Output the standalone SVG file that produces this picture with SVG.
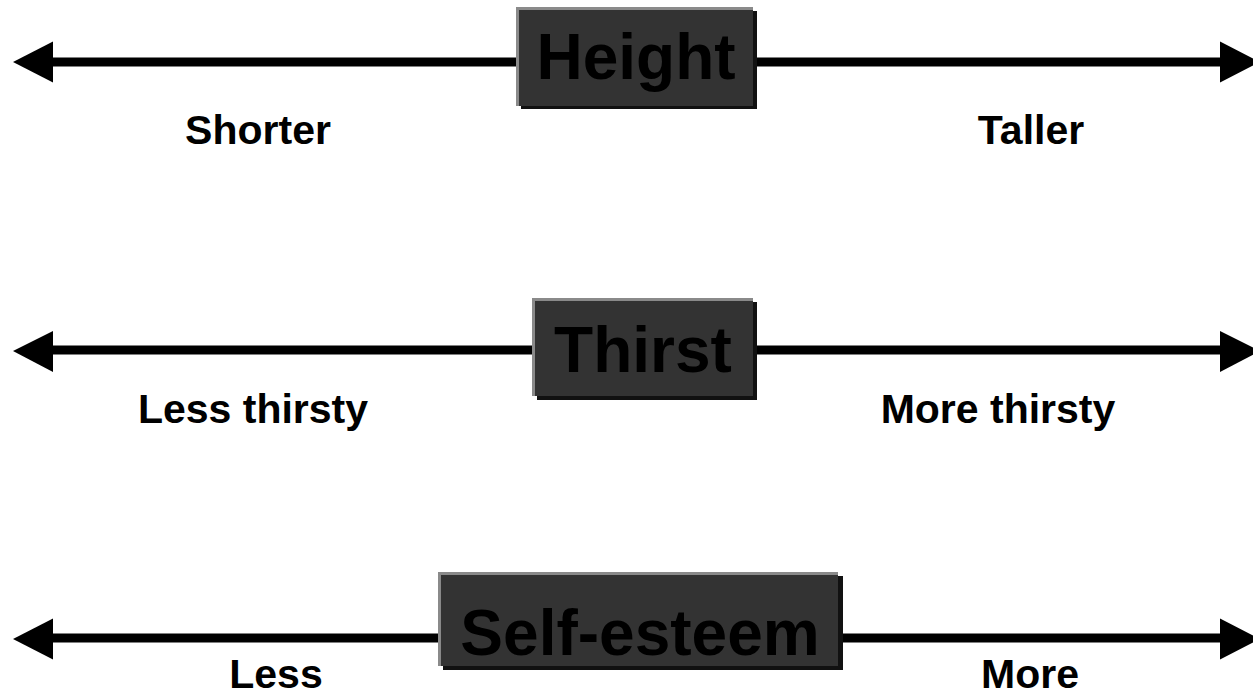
<svg xmlns="http://www.w3.org/2000/svg" width="1253" height="696" viewBox="0 0 1253 696">
<style>
.ln{stroke:#000;stroke-width:9;fill:none}
.ah{fill:#000}
.sh{fill:#111}
.bx{fill:#333}
.hl{fill:none;stroke:#8a8a8a;stroke-width:3}
.tt{font-family:"Liberation Sans",Arial,sans-serif;font-weight:bold;font-size:64px;fill:#000;text-anchor:middle}
.lb{font-family:"Liberation Sans",Arial,sans-serif;font-weight:bold;font-size:41px;fill:#000;text-anchor:middle}
</style>
<rect width="1253" height="696" fill="#fff"/>
<g id="connectors">
<line class="ln" x1="50" y1="62" x2="520" y2="62"/>
<line class="ln" x1="750" y1="62" x2="1223" y2="62"/>
<polygon class="ah" points="13,62 53,41.5 53,82.5"/>
<polygon class="ah" points="1260,62 1220,41.5 1220,82.5"/>
<line class="ln" x1="50" y1="350" x2="536" y2="350"/>
<line class="ln" x1="750" y1="350" x2="1223" y2="350"/>
<polygon class="ah" points="13,351 53,331 53,372"/>
<polygon class="ah" points="1260,351 1220,331 1220,372"/>
<line class="ln" x1="50" y1="638" x2="442" y2="638"/>
<line class="ln" x1="835" y1="638" x2="1223" y2="638"/>
<polygon class="ah" points="13,639 53,618.5 53,659.5"/>
<polygon class="ah" points="1260,639 1220,618.5 1220,659.5"/>
</g>
<g id="node-height">
<rect class="sh" x="521" y="11" width="236" height="98"/>
<rect class="bx" x="516" y="7" width="237" height="99"/>
<polyline class="hl" points="517.5,106 517.5,8.5 753,8.5"/>
<text class="tt" x="636" y="79">Height</text>
</g>
<g id="node-thirst">
<rect class="sh" x="537" y="302" width="220" height="98"/>
<rect class="bx" x="532" y="298" width="221" height="98"/>
<polyline class="hl" points="533.5,396 533.5,299.5 753,299.5"/>
<text class="tt" x="643" y="372">Thirst</text>
</g>
<g id="node-selfesteem">
<rect class="sh" x="443" y="576" width="400" height="94"/>
<rect class="bx" x="438" y="572" width="400" height="94"/>
<polyline class="hl" points="439.5,666 439.5,573.5 838,573.5"/>
<text class="tt" x="640" y="655">Self-esteem</text>
</g>
<g id="labels">
<text class="lb" x="258" y="144">Shorter</text>
<text class="lb" x="1031" y="144">Taller</text>
<text class="lb" x="253" y="423">Less thirsty</text>
<text class="lb" x="998" y="423">More thirsty</text>
<text class="lb" x="276" y="688">Less</text>
<text class="lb" x="1030" y="688">More</text>
</g>
</svg>
